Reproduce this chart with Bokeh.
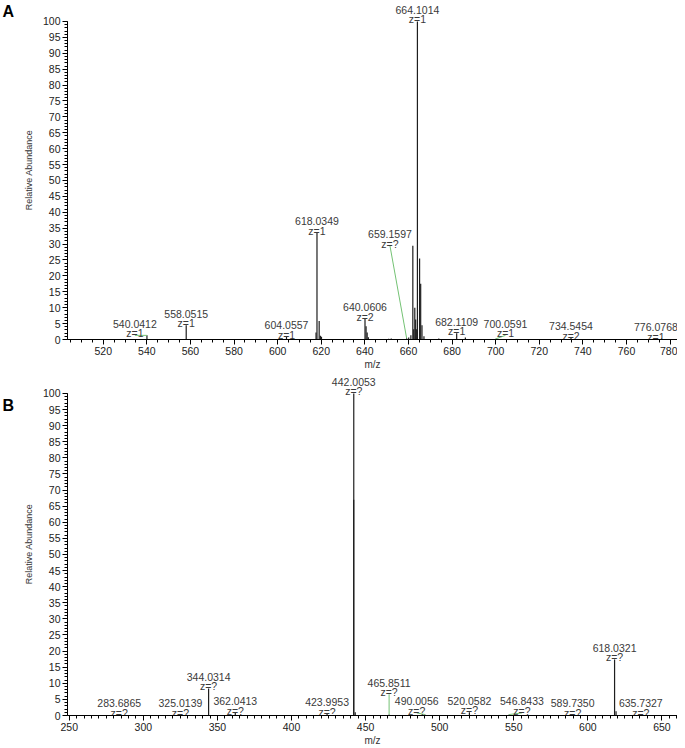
from bokeh.plotting import figure
from bokeh.layouts import column
from bokeh.models import Range1d, SingleIntervalTicker, ColumnDataSource, Label
from bokeh.embed import file_html
from bokeh.resources import INLINE
from bokeh.core.properties import value

FONT = "Liberation Sans"

# ---------------- Panel A : full scan ----------------
a_mz = [540.0412, 558.0515, 602.0, 604.0557, 617.6, 618.0349, 619.04, 619.6, 620.1,
        640.0606, 640.55, 641.05, 641.6, 650.9, 652.1, 659.1597, 660.1, 661.1,
        662.0, 662.4, 662.9, 663.3, 663.6, 664.1014, 665.1, 665.6, 666.2, 667.1,
        673.9, 682.1109, 686.1, 700.0591, 734.5454, 776.0768]
a_int = [1.3, 4.5, 0.3, 0.9, 2.2, 33.5, 5.8, 1.2, 0.9,
         6.6, 4.2, 2.2, 0.7, 0.2, 0.3, 0.4, 0.6, 1.3,
         29.5, 3.2, 10.0, 6.3, 3.2, 100.0, 25.5, 17.5, 4.5, 1.0,
         0.3, 2.0, 0.6, 0.2, 0.6, 0.3]
a_labels = ["540.0412", "558.0515", "604.0557", "618.0349", "640.0606", "659.1597",
            "664.1014", "682.1109", "700.0591", "734.5454", "776.0768"]
a_charges = ["z=1", "z=1", "z=1", "z=1", "z=2", "z=?", "z=1", "z=1", "z=1", "z=2", "z=1"]

# ---------------- Panel B : MS/MS ----------------
b_mz = [283.6865, 325.0139, 344.0314, 362.0413, 423.9953, 441.95, 442.0053, 443.0,
        465.8511, 490.0056, 520.0582, 546.8433, 589.7350, 618.0321, 619.03, 635.7327]
b_int = [0.3, 0.3, 8.4, 0.8, 0.6, 67.0, 100.0, 1.0,
         0.3, 0.3, 1.0, 0.3, 0.3, 17.4, 1.3, 0.3]
b_labels = ["283.6865", "325.0139", "344.0314", "362.0413", "423.9953", "442.0053",
            "465.8511", "490.0056", "520.0582", "546.8433", "589.7350", "618.0321", "635.7327"]
b_charges = ["z=?"] * len(b_labels)

# label layout: displaced labels (anchor x, anchor y, leader line drawn?)
A_ANCHORS = {"540.0412": (534.5, 1.3, True), "659.1597": (651.5, 29.5, True),
             "700.0591": (704.5, 1.3, True), "776.0768": (773.5, 0.3, False)}
B_ANCHORS = {"465.8511": (465.8511, 6.6, True), "490.0056": (484.5, 0.8, True),
             "546.8433": (555.5, 0.8, True)}


def build(mz, inten, labels, charges, anchors, x_range, y_end, tick_int, n_minor,
          height, tag, tag_top):
    p = figure(width=677, height=height, x_range=Range1d(*x_range),
               y_range=Range1d(0, y_end), output_backend="svg", toolbar_location=None,
               min_border_left=67, min_border_right=0, min_border_top=0,
               min_border_bottom=0)
    p.outline_line_color = None
    p.grid.visible = False

    p.segment(x0=mz, y0=[0] * len(mz), x1=mz, y1=inten, line_color="#1e1e1e",
              line_width=1.2)

    lx, ly, lead = [], [], []
    keys = [f"{m:.4f}" for m in mz]
    for lab in labels:
        i = keys.index(lab)
        if lab in anchors:
            ax, ay, has_lead = anchors[lab]
            lx.append(ax); ly.append(ay)
            if has_lead:
                lead.append((mz[i], inten[i], ax, ay))
        else:
            lx.append(mz[i]); ly.append(inten[i])
    if lead:
        p.segment(x0=[l[0] for l in lead], y0=[l[1] for l in lead],
                  x1=[l[2] for l in lead], y1=[l[3] for l in lead],
                  line_color="#74c274", line_width=1)
    src = ColumnDataSource(dict(x=lx, y=ly, mz=labels, z=charges))
    common = dict(text_align="center", text_baseline="alphabetic",
                  text_font_size="10.5px", text_color="#3a3a3a", source=src,
                  text_font=value(FONT))
    p.text(x="x", y="y", text="z", y_offset=-2, **common)
    p.text(x="x", y="y", text="mz", y_offset=-11.5, **common)

    p.yaxis.ticker = SingleIntervalTicker(interval=5, num_minor_ticks=5)
    p.yaxis.bounds = (0, 100)
    p.xaxis.ticker = SingleIntervalTicker(interval=tick_int, num_minor_ticks=n_minor)
    for ax in (p.xaxis[0], p.yaxis[0]):
        ax.axis_line_color = "black"
        ax.major_tick_line_color = "black"
        ax.minor_tick_line_color = "black"
        ax.major_tick_out = 5
        ax.major_tick_in = 0
        ax.minor_tick_out = 3
        ax.minor_tick_in = 0
        ax.major_label_text_font = FONT
        ax.major_label_text_font_size = "10.5px"
        ax.major_label_text_color = "#222222"
        ax.major_label_standoff = 2
        ax.axis_label_text_font = FONT
        ax.axis_label_text_font_style = "normal"
        ax.axis_label_text_color = "#333333"
    p.yaxis.axis_label = "Relative Abundance"
    p.yaxis.axis_label_text_font_size = "9px"
    p.yaxis.axis_label_standoff = 6
    p.xaxis.axis_label = "m/z"
    p.xaxis.axis_label_text_font_size = "10px"
    p.xaxis.axis_label_standoff = 1

    frame_h = height - 33
    lab = Label(x=-6, y=frame_h - tag_top, x_units="screen", y_units="screen", text=tag,
                text_font=FONT, text_font_size="16px", text_font_style="bold",
                text_baseline="top", text_align="left", text_color="black")
    p.add_layout(lab, "left")
    return p


pA = build(a_mz, a_int, a_labels, a_charges, A_ANCHORS, (503.6, 783.4), 106.6, 20, 4,
           372, "A", 2)
pB = build(b_mz, b_int, b_labels, b_charges, B_ANCHORS, (248.8, 660.5), 106.5, 50, 10,
           376, "B", 24)

layout = column(pA, pB, spacing=0)
open("out.html", "w").write(file_html(layout, INLINE))
